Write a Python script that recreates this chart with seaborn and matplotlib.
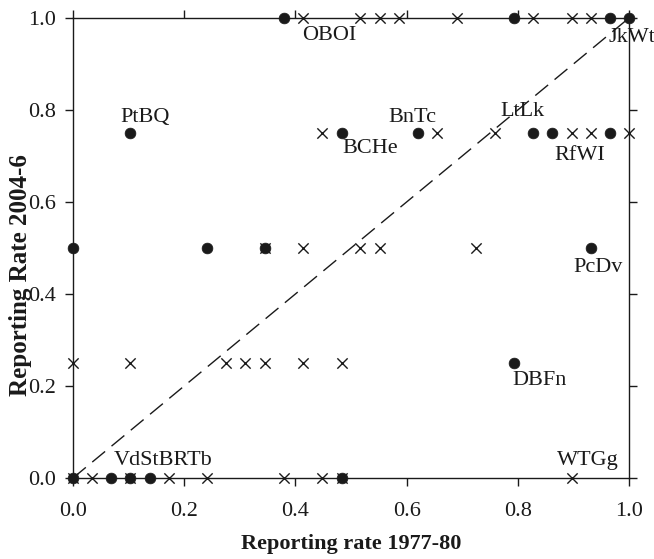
import matplotlib
matplotlib.use("Agg")
import matplotlib.pyplot as plt
import seaborn as sns
import pandas as pd

# reporting rates, crosses (all species) and dots (labelled species)
cross_x = [0.414, 0.517, 0.552, 0.586, 0.690, 0.828, 0.897, 0.931,
           0.448, 0.655, 0.759, 0.897, 0.931, 1.0,
           0.345, 0.414, 0.517, 0.552, 0.724,
           0.0, 0.103, 0.276, 0.310, 0.345, 0.414, 0.483,
           0.0, 0.034, 0.103, 0.172, 0.241, 0.379, 0.448, 0.483, 0.897]
cross_y = [1.0, 1.0, 1.0, 1.0, 1.0, 1.0, 1.0, 1.0,
           0.75, 0.75, 0.75, 0.75, 0.75, 0.75,
           0.5, 0.5, 0.5, 0.5, 0.5,
           0.25, 0.25, 0.25, 0.25, 0.25, 0.25, 0.25,
           0.0, 0.0, 0.0, 0.0, 0.0, 0.0, 0.0, 0.0, 0.0]

dot_x = [0.379, 0.793, 0.966, 1.0,
         0.103, 0.483, 0.621, 0.828, 0.862, 0.966,
         0.0, 0.241, 0.345, 0.931,
         0.793,
         0.0, 0.069, 0.103, 0.138, 0.483]
dot_y = [1.0, 1.0, 1.0, 1.0,
         0.75, 0.75, 0.75, 0.75, 0.75, 0.75,
         0.5, 0.5, 0.5, 0.5,
         0.25,
         0.0, 0.0, 0.0, 0.0, 0.0]

species = ["OBOI", "PtBQ", "BnTc", "BCHe", "LtLk", "RfWI", "JkWt",
           "PcDv", "DBFn", "VdStBRTb", "WTGg"]
# where each species code is written (data coords)
label_pos = [(0.460, 0.963), (0.130, 0.783), (0.610, 0.783), (0.534, 0.717),
             (0.809, 0.796), (0.912, 0.702), (1.005, 0.957), (0.944, 0.457),
             (0.840, 0.213), (0.162, 0.039), (0.926, 0.039)]

crosses = pd.DataFrame({"x": cross_x, "y": cross_y})
dots = pd.DataFrame({"x": dot_x, "y": dot_y})

sns.set_style("ticks")
plt.rcParams["font.family"] = ["Liberation Serif", "DejaVu Serif"]

ink = "#1a1a1a"
fig = plt.figure(figsize=(6.54, 5.59), dpi=100)
ax = fig.add_axes([0.1116, 0.1449, 0.8502, 0.8229])

# 1:1 line
ax.plot([0, 1], [0, 1], color=ink, lw=1.0, dashes=(12, 6), zorder=1)

sns.scatterplot(data=crosses, x="x", y="y", marker="x", s=55, color=ink,
                linewidth=1.0, ax=ax, zorder=2, clip_on=False)
sns.scatterplot(data=dots, x="x", y="y", marker="o", s=60, color=ink,
                edgecolor=ink, linewidth=0.5, ax=ax, zorder=3, clip_on=False)

for name, (lx, ly) in zip(species, label_pos):
    ax.text(lx, ly, name, fontsize=16, color=ink, ha="center", va="center",
            clip_on=False)

ax.set_xlim(0, 1)
ax.set_ylim(0, 1)
ax.set_xticks([0, 0.2, 0.4, 0.6, 0.8, 1.0])
ax.set_yticks([0, 0.2, 0.4, 0.6, 0.8, 1.0])
ax.set_xticklabels(["0.0", "0.2", "0.4", "0.6", "0.8", "1.0"])
ax.set_yticklabels(["0.0", "0.2", "0.4", "0.6", "0.8", "1.0"])
ax.tick_params(axis="both", which="both", direction="out", length=6,
               width=1.0, color=ink, labelsize=16, labelcolor=ink,
               top=True, right=True)
ax.tick_params(axis="x", pad=11)
ax.tick_params(axis="y", pad=6)
for sp in ax.spines.values():
    sp.set_visible(True)
    sp.set_color(ink)
    sp.set_linewidth(1.0)

ax.set_xlabel("Reporting rate 1977-80", fontsize=16, fontweight="bold",
              color=ink)
ax.set_ylabel("Reporting Rate 2004-6", fontsize=18, fontweight="bold",
              color=ink)
ax.xaxis.set_label_coords(0.5, -0.143)
ax.yaxis.set_label_coords(-0.095, 0.441)
ax.yaxis.label.set_va("center")
ax.xaxis.label.set_va("center")

fig.savefig("out.png", dpi=100)
plt.close(fig)
